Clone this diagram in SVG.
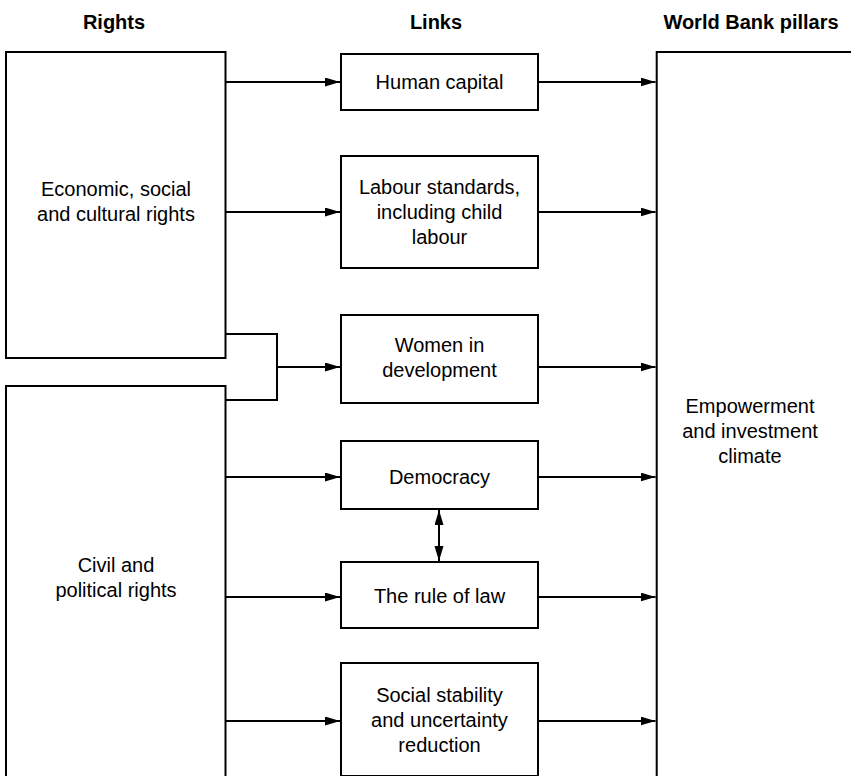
<svg xmlns="http://www.w3.org/2000/svg" width="851" height="776" viewBox="0 0 851 776">
  <style>
    .box { fill: #ffffff; stroke: #000000; stroke-width: 2; }
    .edge { fill: none; stroke: #000000; stroke-width: 2; }
    .hdr { font-family: "Liberation Sans", Arial, sans-serif; font-size: 20px; font-weight: bold; fill: #000; text-anchor: middle; }
    .lbl { font-family: "Liberation Sans", Arial, sans-serif; font-size: 20px; fill: #000; text-anchor: middle; }
  </style>
  <defs>
    <marker id="arr" markerUnits="userSpaceOnUse" markerWidth="16" markerHeight="10" refX="15" refY="4.5" orient="auto-start-reverse">
      <path d="M0,0 L15,4.5 L0,9 z" fill="#000"/>
    </marker>
  </defs>
  <rect width="851" height="776" fill="#ffffff"/>

  <g id="headers">
    <text class="hdr" x="114" y="29">Rights</text>
    <text class="hdr" x="436" y="29">Links</text>
    <text class="hdr" x="751" y="29">World Bank pillars</text>
  </g>

  <g id="econ">
    <rect class="box" x="6" y="52" width="219.5" height="306"/>
    <text class="lbl" x="116" y="196">Economic, social</text>
    <text class="lbl" x="116" y="221">and cultural rights</text>
  </g>

  <g id="civil">
    <rect class="box" x="6" y="386" width="219.5" height="400"/>
    <text class="lbl" x="116" y="572">Civil and</text>
    <text class="lbl" x="116" y="597">political rights</text>
  </g>

  <g id="pillars">
    <rect class="box" x="656.7" y="52" width="210" height="740"/>
    <text class="lbl" x="750" y="413">Empowerment</text>
    <text class="lbl" x="750" y="438">and investment</text>
    <text class="lbl" x="750" y="463">climate</text>
  </g>

  <g id="human">
    <rect class="box" x="341" y="54" width="197" height="56"/>
    <text class="lbl" x="439.5" y="89">Human capital</text>
  </g>

  <g id="labour">
    <rect class="box" x="341" y="156" width="197" height="112"/>
    <text class="lbl" x="439.5" y="194">Labour standards,</text>
    <text class="lbl" x="439.5" y="219">including child</text>
    <text class="lbl" x="439.5" y="244">labour</text>
  </g>

  <g id="women">
    <rect class="box" x="341" y="315" width="197" height="88"/>
    <text class="lbl" x="439.5" y="352">Women in</text>
    <text class="lbl" x="439.5" y="377">development</text>
  </g>

  <g id="democracy">
    <rect class="box" x="341" y="441" width="197" height="68"/>
    <text class="lbl" x="439.5" y="484">Democracy</text>
  </g>

  <g id="rulelaw">
    <rect class="box" x="341" y="562" width="197" height="66"/>
    <text class="lbl" x="439.5" y="603">The rule of law</text>
  </g>

  <g id="social">
    <rect class="box" x="341" y="663" width="197" height="113"/>
    <text class="lbl" x="439.5" y="702">Social stability</text>
    <text class="lbl" x="439.5" y="727">and uncertainty</text>
    <text class="lbl" x="439.5" y="752">reduction</text>
  </g>

  <g id="connectors">
    <line class="edge" x1="225.5" y1="82" x2="340" y2="82" marker-end="url(#arr)"/>
    <line class="edge" x1="225.5" y1="212" x2="340" y2="212" marker-end="url(#arr)"/>
    <polyline class="edge" points="225.5,334 277,334 277,400 225.5,400"/>
    <line class="edge" x1="277" y1="367" x2="340" y2="367" marker-end="url(#arr)"/>
    <line class="edge" x1="225.5" y1="477" x2="340" y2="477" marker-end="url(#arr)"/>
    <line class="edge" x1="225.5" y1="597" x2="340" y2="597" marker-end="url(#arr)"/>
    <line class="edge" x1="225.5" y1="721" x2="340" y2="721" marker-end="url(#arr)"/>

    <line class="edge" x1="538" y1="82" x2="655.5" y2="82" marker-end="url(#arr)"/>
    <line class="edge" x1="538" y1="212" x2="655.5" y2="212" marker-end="url(#arr)"/>
    <line class="edge" x1="538" y1="367" x2="655.5" y2="367" marker-end="url(#arr)"/>
    <line class="edge" x1="538" y1="477" x2="655.5" y2="477" marker-end="url(#arr)"/>
    <line class="edge" x1="538" y1="597" x2="655.5" y2="597" marker-end="url(#arr)"/>
    <line class="edge" x1="538" y1="721" x2="655.5" y2="721" marker-end="url(#arr)"/>

    <line class="edge" x1="439" y1="510" x2="439" y2="561" marker-start="url(#arr)" marker-end="url(#arr)"/>
  </g>
</svg>
